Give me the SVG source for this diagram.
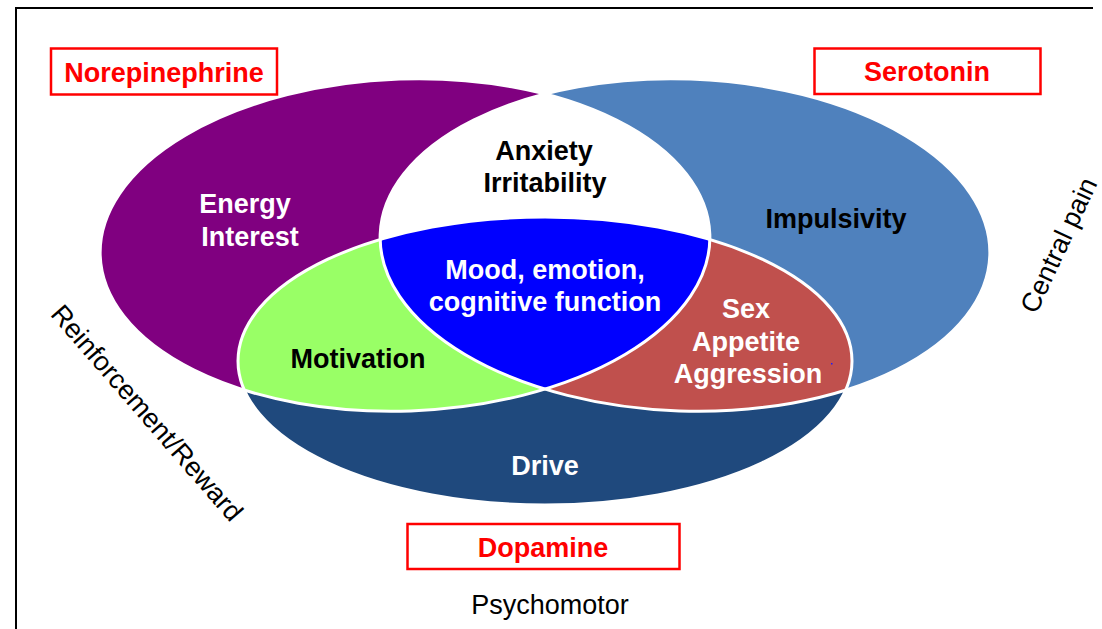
<svg xmlns="http://www.w3.org/2000/svg" width="1102" height="629" viewBox="0 0 1102 629">
  <style>
    .lbl { font-family: "Liberation Sans", Arial, sans-serif; font-weight: bold; font-size: 27px; text-anchor: middle; }
    .w { fill: #ffffff; }
    .k { fill: #000000; }
    .box { fill: #ffffff; stroke: #ff0000; stroke-width: 2.5; }
    .nt { font-family: "Liberation Sans", Arial, sans-serif; font-weight: bold; font-size: 27px; fill: #ff0000; text-anchor: middle; }
    .side { font-family: "Liberation Sans", Arial, sans-serif; font-size: 27px; fill: #000000; text-anchor: middle; }
    .edge { fill: none; stroke: #ffffff; stroke-width: 3; }
  </style>
  <defs>
    <!-- the three transmitter ellipses -->
    <ellipse id="eNE" cx="405" cy="245" rx="305" ry="166" transform="rotate(-2 405 245)"/>
    <ellipse id="e5HT" cx="685" cy="245" rx="305" ry="166" transform="rotate(2 685 245)"/>
    <ellipse id="eDA" cx="545" cy="361" rx="307" ry="144"/>
    <clipPath id="clipNE"><use href="#eNE"/></clipPath>
    <clipPath id="clip5HT"><use href="#e5HT"/></clipPath>
    <clipPath id="clipDA"><use href="#eDA"/></clipPath>
  </defs>

  <rect width="1102" height="629" fill="#ffffff"/>
  <!-- frame -->
  <polyline points="16,629 16,8 1093,8" fill="none" stroke="#000000" stroke-width="2"/>

  <!-- regions -->
  <g id="norepinephrine-area">
    <use href="#eNE" fill="#800080"/>
  </g>
  <g id="serotonin-area">
    <use href="#e5HT" fill="#4F81BD"/>
  </g>
  <g id="ne-5ht-overlap">
    <g clip-path="url(#clipNE)"><use href="#e5HT" fill="#ffffff"/></g>
  </g>
  <g id="dopamine-area">
    <use href="#eDA" fill="#1F497D"/>
  </g>
  <g id="ne-da-overlap">
    <g clip-path="url(#clipDA)"><use href="#eNE" fill="#99FF66"/></g>
  </g>
  <g id="5ht-da-overlap">
    <g clip-path="url(#clipDA)"><use href="#e5HT" fill="#C0504D"/></g>
  </g>
  <g id="all-overlap">
    <g clip-path="url(#clipDA)"><g clip-path="url(#clip5HT)"><use href="#eNE" fill="#0000FF"/></g></g>
  </g>

  <!-- white separating outlines -->
  <g id="outlines">
    <use href="#eNE" class="edge"/>
    <use href="#e5HT" class="edge"/>
    <use href="#eDA" class="edge"/>
  </g>
  <rect x="831" y="363" width="1.5" height="1.5" fill="#1a1aff"/>

  <!-- region labels -->
  <g id="labels">
    <text class="lbl w" x="245" y="213">Energy</text>
    <text class="lbl w" x="250" y="246">Interest</text>
    <text class="lbl k" x="544" y="160">Anxiety</text>
    <text class="lbl k" x="545" y="192">Irritability</text>
    <text class="lbl w" x="545" y="279">Mood, emotion,</text>
    <text class="lbl w" x="545" y="311">cognitive function</text>
    <text class="lbl k" x="836" y="228">Impulsivity</text>
    <text class="lbl w" x="746" y="318">Sex</text>
    <text class="lbl w" x="746" y="351">Appetite</text>
    <text class="lbl w" x="748" y="383">Aggression</text>
    <text class="lbl k" x="358" y="368">Motivation</text>
    <text class="lbl w" x="545" y="475">Drive</text>
  </g>

  <!-- transmitter name boxes -->
  <g id="box-norepinephrine">
    <rect class="box" x="51" y="48.5" width="226" height="46"/>
    <text class="nt" x="164" y="82">Norepinephrine</text>
  </g>
  <g id="box-serotonin">
    <rect class="box" x="814.5" y="48.5" width="226" height="45.5"/>
    <text class="nt" x="927" y="81">Serotonin</text>
  </g>
  <g id="box-dopamine">
    <rect class="box" x="407.5" y="524" width="272" height="45"/>
    <text class="nt" x="543" y="557">Dopamine</text>
  </g>

  <!-- side annotations -->
  <text class="side" transform="translate(140 419) rotate(49)">Reinforcement/Reward</text>
  <text class="side" transform="translate(1067 249) rotate(-65)">Central pain</text>
  <text class="side" x="550" y="614">Psychomotor</text>
</svg>
